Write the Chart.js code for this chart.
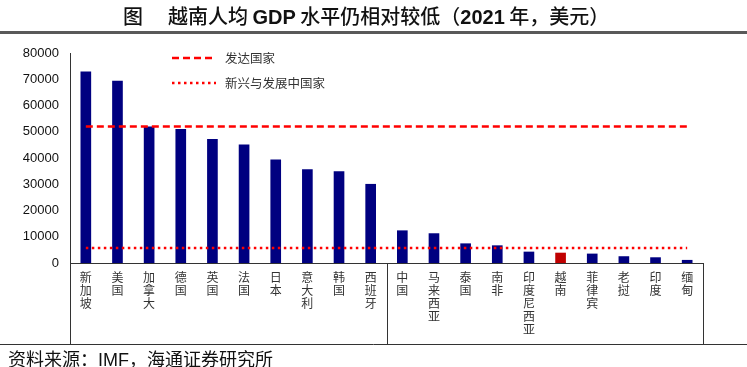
<!DOCTYPE html>
<html>
<head>
<meta charset="utf-8">
<script src="https://cdn.jsdelivr.net/npm/chart.js@4.4.1/dist/chart.umd.min.js"></script>
<style>
  html, body { margin:0; padding:0; background:#fff; }
  body { width:747px; height:367px; position:relative; overflow:hidden; }
  #title { position:absolute; left:123px; top:4px; white-space:nowrap;
    font-family:"Noto Sans CJK SC", "Liberation Sans", sans-serif; font-size:20px; font-weight:500; color:#111; line-height:24px; }
  #title .num { font-family:"Liberation Sans", Arial, sans-serif; font-weight:bold; }
  #title .gap { display:inline-block; width:25px; }
  #rule { position:absolute; left:0; top:31px; width:747px; height:3px; background:#595959; }
  #foot { position:absolute; left:8px; top:348px; white-space:nowrap; font-family:"Noto Sans CJK SC", sans-serif; font-size:18px; color:#111; line-height:20px; }
  #foot .num { font-family:"Liberation Sans", Arial, sans-serif; }
  #wrap { position:absolute; left:0; top:0; width:747px; height:367px; }
</style>
</head>
<body>
<div id="wrap"><canvas id="c" width="747" height="367"></canvas></div>
<div id="title">图<span class="gap"></span>越南人均 <span class="num">GDP</span> 水平仍相对较低（<span class="num">2021</span> 年，美元）</div>
<div id="rule"></div>
<div id="foot">资料来源：<span class="num">IMF</span>，海通证券研究所</div>
<script>
const categories = ['新加坡','美国','加拿大','德国','英国','法国','日本','意大利','韩国','西班牙','中国','马来西亚','泰国','南非','印度尼西亚','越南','菲律宾','老挝','印度','缅甸'];
const gdpPerCapita = [72800, 69300, 51900, 50900, 47100, 45000, 39300, 35600, 34800, 30000, 12300, 11200, 7350, 6600, 4200, 3800, 3450, 2450, 2050, 1050];
const developedAvg = 52000;
const emergingAvg = 5700;
const groupSizes = [10, 10];
const yTicks = [0, 10000, 20000, 30000, 40000, 50000, 60000, 70000, 80000];
const seriesNames = ['发达国家', '新兴与发展中国家'];
const highlight = '越南';

const NAVY = '#000080', RED_BAR = '#C00000', RED = '#FF0000';

const boxPlugin = {
  id: 'boxPlugin',
  afterDraw(chart) {
    const ctx = chart.ctx, ca = chart.chartArea, xs = chart.scales.x;
    const bottomY = 344.5;
    ctx.save();
    ctx.strokeStyle = '#333';
    ctx.lineWidth = 1;
    const seps = [ca.left];
    let acc = 0;
    groupSizes.forEach((n, i) => {
      acc += n;
      if (i < groupSizes.length - 1) seps.push((xs.getPixelForValue(acc - 1) + xs.getPixelForValue(acc)) / 2);
    });
    seps.push(ca.right);
    seps.forEach(x => {
      const px = Math.round(x) + 0.5;
      ctx.beginPath(); ctx.moveTo(px, ca.bottom); ctx.lineTo(px, bottomY); ctx.stroke();
    });
    ctx.beginPath(); ctx.moveTo(0, bottomY); ctx.lineTo(chart.width, bottomY); ctx.stroke();

    // legend
    const items = [
      { y: 58, dash: [7, 4], name: seriesNames[0] },
      { y: 83, dash: [2.5, 3.5], name: seriesNames[1] }
    ];
    items.forEach(it => {
      ctx.strokeStyle = RED; ctx.lineWidth = 2.5; ctx.setLineDash(it.dash);
      ctx.beginPath(); ctx.moveTo(172, it.y); ctx.lineTo(216, it.y); ctx.stroke();
      ctx.setLineDash([]);
      ctx.fillStyle = '#333';
      ctx.font = '12.5px "Noto Sans CJK SC", sans-serif';
      ctx.textBaseline = 'middle';
      ctx.fillText(it.name, 225, it.y);
    });
    ctx.restore();
  }
};

new Chart(document.getElementById('c'), {
  data: {
    labels: categories.map(s => s.split('')),
    datasets: [
      { type: 'line', label: seriesNames[0], data: categories.map(() => developedAvg),
        borderColor: RED, borderWidth: 2.5, borderDash: [7, 4], pointRadius: 0, fill: false, order: 0 },
      { type: 'line', label: seriesNames[1], data: categories.map(() => emergingAvg),
        borderColor: RED, borderWidth: 2.5, borderDash: [2.5, 3.5], pointRadius: 0, fill: false, order: 0 },
      { type: 'bar', label: 'GDP', data: gdpPerCapita,
        backgroundColor: categories.map(c => c === highlight ? RED_BAR : NAVY),
        barThickness: 10, order: 1 }
    ]
  },
  options: {
    responsive: false,
    animation: false,
    layout: { padding: { left: 0, right: 44, top: 53, bottom: 22 } },
    plugins: { legend: { display: false }, tooltip: { enabled: false } },
    scales: {
      x: {
        type: 'category',
        offset: true,
        grid: { display: false, drawTicks: false },
        border: { display: true, color: '#333', width: 1 },
        ticks: { autoSkip: false, maxRotation: 0, minRotation: 0, padding: 8, color: '#333',
          font: { family: '"Noto Sans CJK SC", sans-serif', size: 12, lineHeight: 1.08 } },
        afterFit(s) { s.height = 82; }
      },
      y: {
        min: 0, max: 80000,
        afterBuildTicks(s) { s.ticks = yTicks.map(v => ({ value: v })); },
        grid: { display: false, drawTicks: false },
        border: { display: true, color: '#333', width: 1 },
        ticks: { padding: 11, color: '#111', callback: v => String(v),
          font: { family: '"Liberation Sans", Arial, sans-serif', size: 13 } },
        afterFit(s) { s.width = 70; }
      }
    }
  },
  plugins: [boxPlugin]
});
</script>
</body>
</html>
